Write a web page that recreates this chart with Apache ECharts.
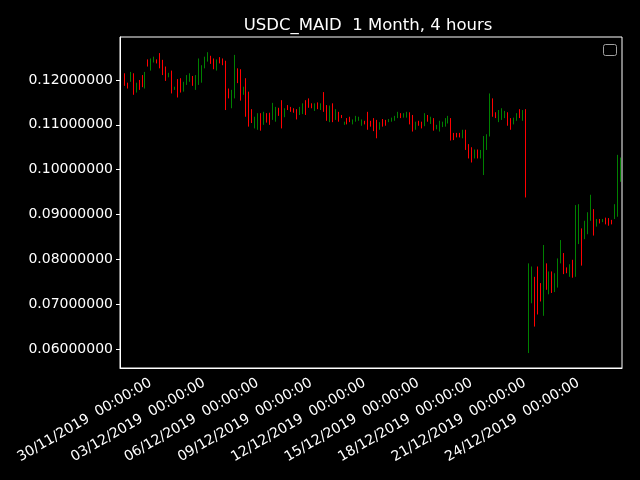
<!DOCTYPE html>
<html>
<head>
<meta charset="utf-8">
<script src="https://cdn.jsdelivr.net/npm/echarts@6/dist/echarts.min.js"></script>
<style>
  html, body { margin: 0; padding: 0; background: #000; }
  #chart { width: 640px; height: 480px; }
</style>
</head>
<body>
<div id="chart"></div>
<script>
// 4h candles, 28/11/2019 08:00 -> 26/12/2019 04:00 (first slot at 04:00 is empty)
const startTime = Date.UTC(2019, 10, 28, 4, 0, 0);
const slotCount = 169;

const opens = [
  .1212, .1192, .1199, .1213, .1175, .1196, .1208, .1186, .1244, .1224,
  .1241, .1245, .1250, .1240, .1226, .1208, .1212, .1179, .1196, .1190,
  .1177, .1192, .1200, .1206, .1190, .1205, .1215, .1230, .1245, .1252,
  .1244, .1226, .1248, .1246, .1240, .1178, .1160, .1170, .1222, .1218,
  .1170, .1200, .1165, .1130, .1100, .1105, .1122, .1104, .1124, .1120,
  .1115, .1112, .1134, .1138, .1120, .1142, .1138, .1135, .1132, .1124,
  .1128, .1150, .1152, .1146, .1134, .1148, .1136, .1146, .1140, .1112,
  .1142, .1113, .1127, .1121, .1101, .1113, .1116, .1104, .1110, .1111,
  .1101, .1108, .1110, .1106, .1110, .1110, .1092, .1110, .1108, .1107,
  .1109, .1111, .1117, .1124, .1118, .1119, .1126, .1118, .1091, .1107,
  .1105, .1099, .1120, .1106, .1113, .1092, .1095, .1098, .1101, .1106,
  .1112, .1080, .1080, .1079, .1074, .1086, .1054, .1044, .1028, .1042,
  .1030, .1042, .1050, .1078, .1150, .1126, .1115, .1118, .1120, .1126,
  .1112, .1104, .1112, .1132, .1115, .1130, .0600, .0705, .0750, .0775,
  .0735, .0712, .0780, .0740, .0765, .0738, .0745, .0795, .0810, .0780,
  .0766, .0790, .0765, .0860, .0860, .0850, .0862, .0890, .0910, .0876,
  .0888, .0884, .0891, .0889, .0887, .0892, .0922, .0975
];
const closes = [
  .1190, .1184, .1214, .1172, .1190, .1182, .1188, .1214, .1232, .1244,
  .1250, .1239, .1232, .1216, .1204, .1214, .1178, .1184, .1170, .1176,
  .1192, .1207, .1212, .1190, .1206, .1243, .1230, .1248, .1258, .1240,
  .1228, .1242, .1240, .1236, .1140, .1162, .1172, .1225, .1198, .1170,
  .1180, .1130, .1110, .1108, .1114, .1120, .1095, .1124, .1108, .1104,
  .1140, .1132, .1122, .1115, .1134, .1135, .1132, .1130, .1116, .1137,
  .1145, .1126, .1140, .1139, .1146, .1138, .1146, .1134, .1112, .1138,
  .1110, .1132, .1110, .1116, .1106, .1104, .1108, .1110, .1118, .1117,
  .1110, .1102, .1096, .1099, .1092, .1090, .1103, .1100, .1102, .1112,
  .1114, .1118, .1126, .1117, .1124, .1127, .1106, .1090, .1104, .1100,
  .1095, .1120, .1110, .1115, .1094, .1098, .1106, .1105, .1112, .1117,
  .1076, .1070, .1074, .1074, .1086, .1050, .1032, .1025, .1042, .1028,
  .1041, .1068, .1075, .1140, .1125, .1118, .1128, .1130, .1128, .1105,
  .1095, .1113, .1123, .1118, .1130, .0945, .0712, .0760, .0680, .0695,
  .0712, .0750, .0740, .0765, .0738, .0760, .0790, .0835, .0775, .0772,
  .0784, .0765, .0900, .0895, .0800, .0880, .0895, .0925, .0870, .0886,
  .0882, .0889, .0881, .0879, .0880, .0918, .0975, .1025
];
const lows = [
  .1187, .1181, .1196, .1167, .1172, .1178, .1184, .1181, .1230, .1221,
  .1239, .1237, .1226, .1211, .1198, .1206, .1170, .1178, .1161, .1172,
  .1174, .1189, .1196, .1187, .1178, .1189, .1194, .1226, .1241, .1236,
  .1224, .1221, .1237, .1233, .1133, .1159, .1137, .1159, .1193, .1154,
  .1167, .1118, .1096, .1104, .1092, .1089, .1087, .1100, .1105, .1100,
  .1111, .1107, .1120, .1092, .1117, .1133, .1129, .1127, .1112, .1122,
  .1124, .1122, .1138, .1137, .1131, .1135, .1133, .1129, .1109, .1106,
  .1106, .1111, .1107, .1115, .1100, .1101, .1106, .1101, .1107, .1109,
  .1098, .1101, .1089, .1096, .1086, .1070, .1089, .1096, .1098, .1106,
  .1107, .1109, .1115, .1115, .1116, .1116, .1101, .1085, .1089, .1098,
  .1092, .1097, .1107, .1102, .1087, .1090, .1085, .1095, .1096, .1103,
  .1065, .1066, .1072, .1072, .1070, .1044, .1025, .1016, .1025, .1025,
  .1025, .0988, .1044, .1074, .1118, .1115, .1106, .1111, .1115, .1098,
  .1089, .1101, .1109, .1115, .1109, .0938, .0591, .0702, .0650, .0677,
  .0706, .0674, .0732, .0722, .0725, .0727, .0737, .0791, .0767, .0769,
  .0761, .0759, .0761, .0834, .0786, .0845, .0856, .0886, .0853, .0873,
  .0880, .0883, .0878, .0875, .0878, .0890, .0895, .0973
];
const highs = [
  .1215, .1194, .1218, .1215, .1194, .1200, .1211, .1218, .1246, .1248,
  .1252, .1246, .1260, .1245, .1230, .1216, .1221, .1185, .1202, .1204,
  .1196, .1211, .1215, .1209, .1211, .1248, .1233, .1252, .1262, .1254,
  .1248, .1246, .1251, .1248, .1243, .1181, .1178, .1256, .1226, .1224,
  .1185, .1204, .1174, .1135, .1118, .1126, .1126, .1129, .1126, .1127,
  .1149, .1140, .1138, .1155, .1137, .1144, .1140, .1137, .1135, .1140,
  .1148, .1155, .1159, .1148, .1148, .1150, .1148, .1173, .1144, .1143,
  .1148, .1135, .1129, .1122, .1107, .1115, .1118, .1112, .1120, .1118,
  .1112, .1109, .1129, .1109, .1115, .1111, .1106, .1113, .1111, .1113,
  .1116, .1120, .1129, .1126, .1126, .1129, .1128, .1122, .1107, .1109,
  .1107, .1126, .1122, .1118, .1115, .1100, .1109, .1107, .1115, .1120,
  .1115, .1082, .1082, .1082, .1089, .1089, .1057, .1050, .1045, .1045,
  .1044, .1075, .1079, .1170, .1159, .1128, .1133, .1137, .1131, .1128,
  .1115, .1116, .1126, .1135, .1133, .1135, .0791, .0784, .0761, .0784,
  .0747, .0832, .0791, .0773, .0773, .0769, .0802, .0843, .0814, .0782,
  .0789, .0799, .0921, .0923, .0869, .0886, .0905, .0944, .0912, .0890,
  .0890, .0890, .0893, .0892, .0888, .0923, .1033, .1027
];
const yTicks = [0.06, 0.07, 0.08, 0.09, 0.10, 0.11, 0.12];

function pad(n) { return String(n).padStart(2, "0"); }
const categories = [];
for (let k = 0; k < slotCount; k++) {
  const d = new Date(startTime + k * 4 * 3600 * 1000);
  categories.push(pad(d.getUTCDate()) + "/" + pad(d.getUTCMonth() + 1) + "/" + d.getUTCFullYear() +
    "  " + pad(d.getUTCHours()) + ":" + pad(d.getUTCMinutes()) + ":" + pad(d.getUTCSeconds()));
}
// slot 0 (28/11 04:00) has no candle
const candles = [["-", "-", "-", "-"]];
for (let i = 0; i < opens.length; i++) {
  candles.push([opens[i], closes[i], lows[i], highs[i]]);
}

// a label every 3 days at midnight, starting 30/11
const showTick = (index) => index >= 11 && (index - 11) % 18 === 0;

const chart = echarts.init(document.getElementById("chart"));
chart.setOption({
  backgroundColor: "#000",
  animation: false,
  textStyle: { fontFamily: "DejaVu Sans" },
  title: {
    text: "USDC_MAID  1 Month, 4 hours",
    left: 363,
    top: 12,
    textAlign: "center",
    textStyle: { color: "#fff", fontSize: 16.5, fontWeight: "normal", fontFamily: "DejaVu Sans" },
  },
  graphic: [
    {
      type: "rect",
      left: 603,
      top: 44,
      shape: { width: 13, height: 11, r: 2 },
      style: { fill: "#000", stroke: "#a0a0a0", lineWidth: 1 },
    },
  ],
  grid: {
    left: 120,
    top: 37,
    width: 502,
    height: 331,
    show: true,
    borderColor: "#fff",
    borderWidth: 1,
    backgroundColor: "#000",
    outerBoundsMode: "none",
  },
  xAxis: {
    type: "category",
    data: categories,
    boundaryGap: true,
    axisLine: { lineStyle: { color: "#fff" } },
    axisTick: {
      alignWithLabel: true,
      interval: showTick,
      length: 4,
      lineStyle: { color: "#fff" },
    },
    axisLabel: {
      interval: showTick,
      rotate: 30,
      margin: 12,
      padding: [0, 4, 0, 0],
      color: "#fff",
      fontSize: 14,
      fontFamily: "DejaVu Sans",
    },
    splitLine: { show: false },
  },
  yAxis: {
    type: "value",
    min: 0.055762,
    max: 0.129591,
    splitNumber: 7,
    axisLine: { show: true, lineStyle: { color: "#fff" } },
    axisTick: { show: true, length: 4, lineStyle: { color: "#fff" }, customValues: yTicks },
    axisLabel: {
      color: "#fff",
      fontSize: 14,
      margin: 7,
      lineHeight: 18,
      verticalAlign: "middle",
      padding: [4, 0, 0, 0],
      fontFamily: "DejaVu Sans",
      customValues: yTicks,
      formatter: (v) => v.toFixed(8),
    },
    splitLine: { show: false },
  },
  series: [
    {
      type: "candlestick",
      data: candles,
      barWidth: 1,
      itemStyle: {
        color: "#008000",
        color0: "#ff0000",
        borderColor: "#008000",
        borderColor0: "#ff0000",
        borderWidth: 1,
      },
    },
  ],
});
</script>
</body>
</html>
